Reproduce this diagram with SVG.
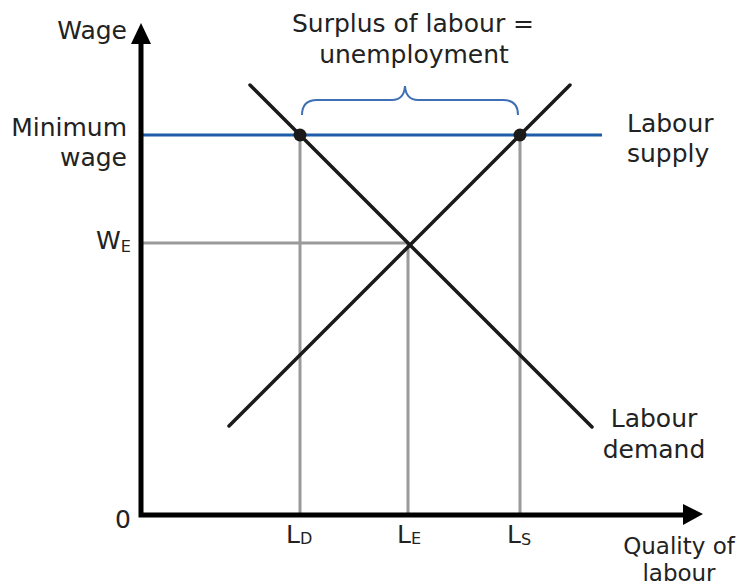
<svg xmlns="http://www.w3.org/2000/svg" width="741" height="588" viewBox="0 0 741 588">
<style>
text{font-family:"DejaVu Sans","Verdana",sans-serif;font-size:25px;fill:#222}
.sub{font-size:16px}
.sm{font-size:23px}
.axis{stroke:#000;stroke-width:5;fill:none}
.curve{stroke:#1a1a1a;stroke-width:3.5;fill:none;stroke-linecap:round}
.guide{stroke:#9a9a9a;stroke-width:3;fill:none}
.minw{stroke:#1f5ca8;stroke-width:3;fill:none}
.brace{stroke:#3f6fb5;stroke-width:2;fill:none}
</style>
<rect width="741" height="588" fill="#fff"/>
<g id="connectors">
  <line class="guide" x1="141" y1="243" x2="408" y2="243"/>
  <line class="guide" x1="300" y1="135" x2="300" y2="515"/>
  <line class="guide" x1="408" y1="243" x2="408" y2="515"/>
  <line class="guide" x1="520" y1="135" x2="520" y2="515"/>
  <line class="minw" x1="141" y1="135" x2="602" y2="135"/>
  <line id="demand" class="curve" x1="250" y1="85" x2="592" y2="427"/>
  <line id="supply" class="curve" x1="229" y1="426" x2="570" y2="85"/>
  <path class="brace" d="M302,115 Q302,100 317,100 L392,100 Q404,100 405,86 Q406,100 418,100 L503,100 Q518,100 518,115"/>
</g>
<g id="axes">
  <polyline class="axis" points="141,40 141,515 686,515"/>
  <polygon points="141,23 131,44 151,44" fill="#000"/>
  <polygon points="703,514 683,504 683,525" fill="#000"/>
</g>
<g id="points">
  <circle cx="300" cy="135" r="6.5" fill="#1a1a1a"/>
  <circle cx="520" cy="135" r="6.5" fill="#1a1a1a"/>
</g>
<g id="labels">
  <text x="127" y="39" text-anchor="end">Wage</text>
  <text x="127" y="136" text-anchor="end">Minimum</text>
  <text x="127" y="166" text-anchor="end">wage</text>
  <text x="96" y="249">W<tspan class="sub" dy="3">E</tspan></text>
  <text x="131" y="528" text-anchor="end">0</text>
  <text x="413" y="32" text-anchor="middle">Surplus of labour =</text>
  <text x="414" y="63" text-anchor="middle">unemployment</text>
  <text x="627" y="132">Labour</text>
  <text x="627" y="162">supply</text>
  <text x="654" y="427" text-anchor="middle">Labour</text>
  <text x="654" y="458" text-anchor="middle">demand</text>
  <text class="sm" x="679" y="554" text-anchor="middle">Quality of</text>
  <text class="sm" x="679" y="581" text-anchor="middle">labour</text>
  <text x="286" y="543">L<tspan class="sub" dy="1">D</tspan></text>
  <text x="397" y="543">L<tspan class="sub" dy="1">E</tspan></text>
  <text x="507" y="543">L<tspan class="sub" dy="2">S</tspan></text>
</g>
</svg>
